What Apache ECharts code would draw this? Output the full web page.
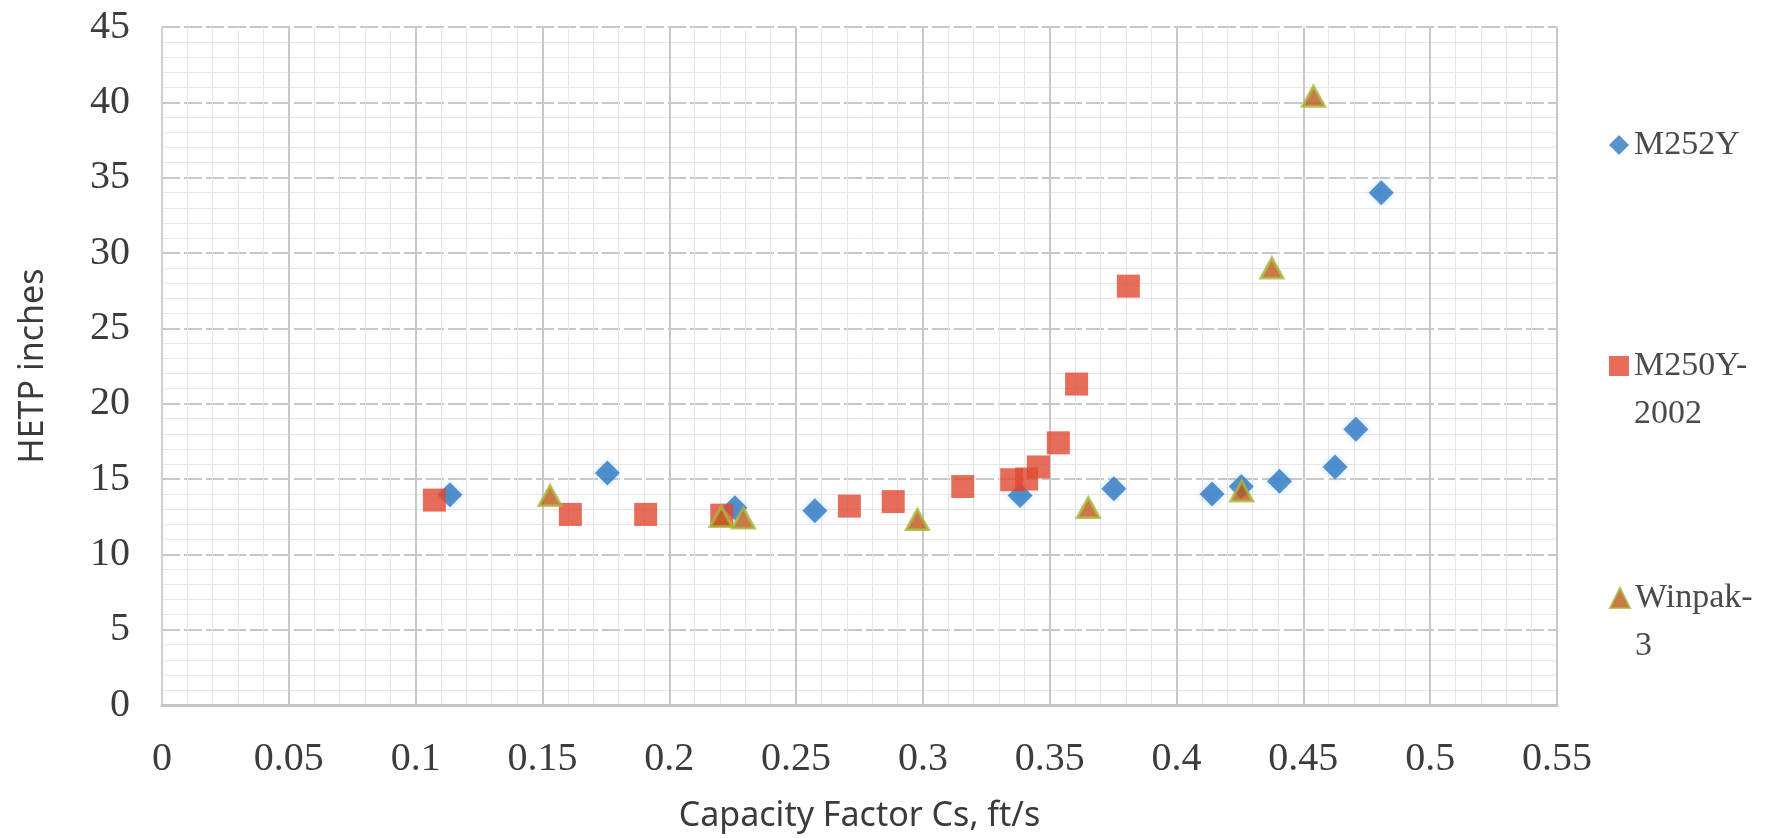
<!DOCTYPE html>
<html>
<head>
<meta charset="utf-8">
<script src="https://cdn.jsdelivr.net/npm/echarts@6/dist/echarts.min.js"></script>
<style>
html,body{margin:0;padding:0;background:#fff;}
#chart{width:1769px;height:838px;}
</style>
</head>
<body>
<div id="chart"></div>
<script>
// ---- data ----
const seriesNames = ['M252Y', 'M250Y-2002', 'Winpak-3'];
const legendLabels = ['M252Y', 'M250Y-\n2002', 'Winpak-\n3'];

const m252yX = [0.1135, 0.1756, 0.2259, 0.2574, 0.3383, 0.3753, 0.4140, 0.4255, 0.4406, 0.4625, 0.4707, 0.4807];
const m252yY = [13.95, 15.4, 13.1, 12.9, 13.9, 14.35, 14.0, 14.5, 14.85, 15.8, 18.3, 34.0];

const m250yX = [0.1074, 0.1610, 0.1907, 0.2207, 0.2710, 0.2883, 0.3157, 0.3350, 0.3409, 0.3455, 0.3534, 0.3606, 0.3810];
const m250yY = [13.6, 12.65, 12.65, 12.6, 13.2, 13.5, 14.5, 14.95, 15.0, 15.8, 17.4, 21.3, 27.8];

const winpakX = [0.1530, 0.2205, 0.2292, 0.2978, 0.3652, 0.4257, 0.4376, 0.4540];
const winpakY = [13.9, 12.5, 12.4, 12.3, 13.1, 14.2, 29.0, 40.4];

const xTickLabels = ['0', '0.05', '0.1', '0.15', '0.2', '0.25', '0.3', '0.35', '0.4', '0.45', '0.5', '0.55'];
const yTickLabels = ['0', '5', '10', '15', '20', '25', '30', '35', '40', '45'];

const xTitle = 'Capacity Factor Cs, ft/s';
const yTitle = 'HETP inches';

function pairs(xs, ys) { return xs.map((x, i) => [x, ys[i]]); }

const serifFont = '"Liberation Serif", "DejaVu Serif", serif';
const sansFont = '"Noto Sans", "DejaVu Sans", sans-serif';

const chart = echarts.init(document.getElementById('chart'));

const LH = 48;
function legendFor(idx, iconY) {
  const label = legendLabels[idx];
  const multi = label.indexOf('\n') >= 0;
  // multi-line entries get a leading blank line so the first line sits level with the icon
  const shown = multi ? '\n' + label : label;
  const boxH = multi ? LH * 3 : LH;
  return {
    show: true,
    orient: 'vertical',
    left: 1609,
    top: iconY - boxH / 2,
    padding: 0,
    itemWidth: 20,
    itemHeight: 20,
    data: [seriesNames[idx]],
    formatter: function () { return shown; },
    textStyle: {
      fontFamily: serifFont,
      fontSize: 34,
      color: '#4a4a4a',
      lineHeight: LH
    }
  };
}

const option = {
  animation: false,
  backgroundColor: '#ffffff',
  grid: { left: 162, right: 212, top: 27, bottom: 120, containLabel: false },
  legend: [
    legendFor(0, 145),
    legendFor(1, 366),
    legendFor(2, 598)
  ],
  xAxis: {
    type: 'value',
    min: 0, max: 0.55, interval: 0.05,
    name: xTitle,
    nameLocation: 'middle',
    nameGap: 94,
    nameTextStyle: { fontFamily: sansFont, fontSize: 34, color: '#3a3a3a' },
    axisLine: { show: true, lineStyle: { color: '#c6c6c6', width: 3 } },
    axisTick: { show: false },
    axisLabel: {
      margin: 34,
      fontFamily: serifFont, fontSize: 40, color: '#3c3c3c',
      formatter: function (v) { return xTickLabels[Math.round(v / 0.05)]; }
    },
    splitLine: { show: true, lineStyle: { color: '#c8c8c8', width: 2 } },
    minorTick: { show: false, splitNumber: 5 },
    minorSplitLine: { show: true, lineStyle: { color: '#e6e6e6', width: 1 } }
  },
  yAxis: {
    type: 'value',
    min: 0, max: 45, interval: 5,
    name: yTitle,
    nameLocation: 'middle',
    nameGap: 112,
    nameTextStyle: { fontFamily: sansFont, fontSize: 34, color: '#3a3a3a' },
    axisLine: { show: true, lineStyle: { color: '#cfcfcf', width: 2 } },
    axisTick: { show: false },
    axisLabel: {
      margin: 32,
      fontFamily: serifFont, fontSize: 40, color: '#3c3c3c',
      formatter: function (v) { return yTickLabels[Math.round(v / 5)]; }
    },
    splitLine: { show: true, lineStyle: { color: '#c8c8c8', width: 2, type: [18, 4] } },
    minorTick: { show: false, splitNumber: 5 },
    minorSplitLine: { show: true, lineStyle: { color: '#e6e6e6', width: 1 } }
  },
  series: [
    {
      name: seriesNames[0],
      type: 'scatter',
      symbol: 'diamond',
      symbolSize: [25, 25],
      itemStyle: { color: '#2e78c2', shadowBlur: 6, shadowColor: 'rgba(140,190,235,0.6)' },
      data: pairs(m252yX, m252yY)
    },
    {
      name: seriesNames[1],
      type: 'scatter',
      symbol: 'rect',
      symbolSize: 23,
      itemStyle: { color: '#e0492f' },
      data: pairs(m250yX, m250yY)
    },
    {
      name: seriesNames[2],
      type: 'scatter',
      symbol: 'triangle',
      symbolSize: [22, 20],
      itemStyle: { color: '#c0561c', borderColor: '#a8b83c', borderWidth: 3 },
      data: pairs(winpakX, winpakY)
    }
  ]
};

chart.setOption(option);
</script>
</body>
</html>
